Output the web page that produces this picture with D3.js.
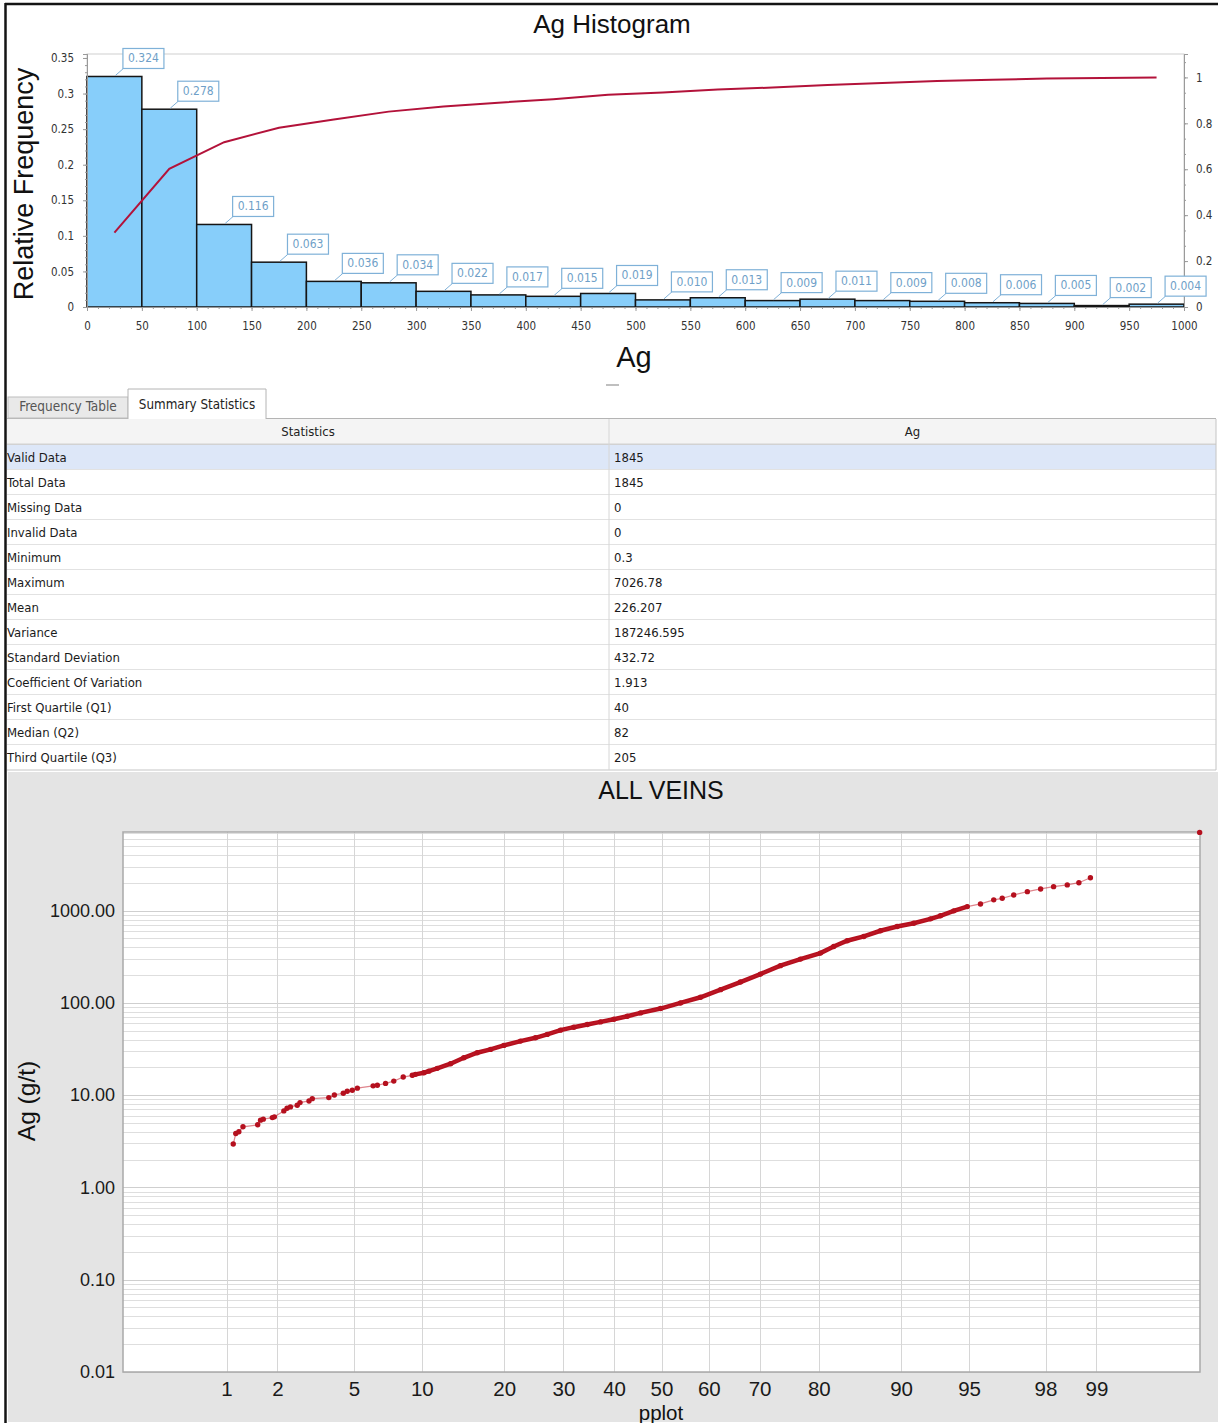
<!DOCTYPE html>
<html>
<head>
<meta charset="utf-8">
<script src="https://cdn.jsdelivr.net/npm/d3@7"></script>
<style>
	body{margin:0;background:#fff;}
	svg{display:block;}
	.haxis text{font-family:"DejaVu Sans Condensed","DejaVu Sans",sans-serif;font-size:11.5px;fill:#333;}
	.haxis path,.haxis line{stroke:#9a9a9a;}
	.paxis text{font-family:"Liberation Sans",Arial,sans-serif;fill:#1a1a1a;}
	.paxis path{display:none;}
</style>
</head>
<body>
<div class="c_chart"></div>
<script>

/*DATA
------------------------------------------------------
------------------------------------------------------
*/

//Histogram : classes de 50 g/t et fréquences relatives
const binStart = [0,50,100,150,200,250,300,350,400,450,500,550,600,650,700,750,800,850,900,950];
const binFreq = [0.324,0.278,0.116,0.063,0.036,0.034,0.022,0.017,0.015,0.019,0.010,0.013,0.009,0.011,0.009,0.008,0.006,0.005,0.002,0.004];
const freqTicks = [0,0.05,0.1,0.15,0.2,0.25,0.3,0.35];
const cumTicks = [0,0.2,0.4,0.6,0.8,1];

//Statistiques
const statNames = ["Valid Data","Total Data","Missing Data","Invalid Data","Minimum","Maximum","Mean","Variance","Standard Deviation","Coefficient Of Variation","First Quartile (Q1)","Median (Q2)","Third Quartile (Q3)"];
const statValues = ["1845","1845","0","0","0.3","7026.78","226.207","187246.595","432.72","1.913","40","82","205"];

//Probability plot (percent cumulé, teneur Ag g/t)
const probTicks = [1,2,5,10,20,30,40,50,60,70,80,90,95,98,99];
const gradeTicks = [0.01,0.1,1,10,100,1000];
const ppPercent = [1.10,1.14,1.19,1.26,1.54,1.60,1.66,1.87,1.92,2.17,2.26,2.36,2.57,2.66,2.97,3.09,
	3.76,4.01,4.44,4.64,4.91,5.19,6.15,6.43,7.00,7.61,8.36,9.13,9.41,10.19,10.67,11.52,
	12.97,14.52,16.21,18.03,19.96,22.54,25.02,27.06,29.46,31.95,34.57,37.22,39.94,42.74,45.54,
	49.8,54.05,58.27,62.40,66.35,70.16,73.76,77.13,80.23,82.15,83.97,86.04,87.92,89.62,91.13,
	92.49,93.21,94.10,94.90,95.60,96.22,96.58,97.02,97.48,97.87,98.20,98.50,98.72,98.91,99.80];
const ppGrade = [2.95,3.84,4.01,4.54,4.77,5.36,5.49,5.71,5.82,6.75,7.21,7.46,7.78,8.30,8.65,9.16,
	9.40,10.05,10.47,11.0,11.3,11.9,12.6,12.8,13.4,14.2,15.7,16.4,16.8,17.5,18.2,19.5,
	21.9,25.4,28.8,31.3,34.6,38.5,41.8,45.5,50.6,54.5,58.3,62.2,66.5,71.6,77.8,
	86.7,99.8,114.9,139,168,205,253,298,346,408,471,524,604,671,729,
	813,877,993,1104,1180,1306,1358,1476,1603,1714,1815,1896,2005,2270,7026.78];


/*SVG
------------------------------------------------------
------------------------------------------------------
*/

let svg = d3.select(".c_chart")
	.append("svg")
	.attr("width",1218)
	.attr("height",1423);

const font = "'Liberation Sans', Arial, sans-serif";
const ui = "'DejaVu Sans Condensed','DejaVu Sans',sans-serif";


/*HISTOGRAM
------------------------------------------------------
------------------------------------------------------
*/

const hist = {left:87, right:1184, top:54, bottom:307};

let xHist = d3.scaleLinear().domain([0,1000]).range([hist.left,hist.right]);
let yHist = d3.scaleLinear().domain([0,0.3556]).range([hist.bottom,hist.top]);
let yCum = d3.scaleLinear().domain([0,1.102]).range([hist.bottom,hist.top]);
const binW = binStart[1]-binStart[0];

//cadre
svg.append("rect")
	.attr("x",hist.left).attr("y",hist.top)
	.attr("width",hist.right-hist.left).attr("height",hist.bottom-hist.top)
	.attr("fill","none").attr("stroke","#cfcfcf");

//barres
svg.selectAll(".bar")
	.data(binStart)
	.enter()
	.append("rect")
	.attr("class","bar")
	.attr("x", d=>xHist(d))
	.attr("y", (d,i)=>yHist(binFreq[i]))
	.attr("width", xHist(binW)-xHist(0))
	.attr("height", (d,i)=>yHist(0)-yHist(binFreq[i]))
	.attr("fill","#87cefa")
	.attr("stroke","#151515")
	.attr("stroke-width",1.5);

//axes
svg.append("g").attr("class","haxis")
	.attr("transform",`translate(${hist.left},0)`)
	.call(d3.axisLeft(yHist).tickValues(d3.range(0,0.351,0.01)).tickSize(2).tickFormat(""));
svg.append("g").attr("class","haxis")
	.attr("transform",`translate(${hist.left},0)`)
	.call(d3.axisLeft(yHist).tickValues(freqTicks).tickSize(4).tickPadding(9).tickFormat(d=>String(+d.toFixed(2))));

svg.append("g").attr("class","haxis")
	.attr("transform",`translate(0,${hist.bottom})`)
	.call(d3.axisBottom(xHist).tickValues(d3.range(0,1001,10)).tickSize(2).tickFormat(""));
svg.append("g").attr("class","haxis")
	.attr("transform",`translate(0,${hist.bottom})`)
	.call(d3.axisBottom(xHist).tickValues(d3.range(0,1001,50)).tickSize(4).tickPadding(11).tickFormat(d=>String(d)));

svg.append("g").attr("class","haxis")
	.attr("transform",`translate(${hist.right},0)`)
	.call(d3.axisRight(yCum).tickValues(d3.range(0,1.1,0.2/3)).tickSize(2).tickFormat(""));
svg.append("g").attr("class","haxis")
	.attr("transform",`translate(${hist.right},0)`)
	.call(d3.axisRight(yCum).tickValues(cumTicks).tickSize(4).tickPadding(8).tickFormat(d=>String(+d.toFixed(1))));

svg.selectAll(".haxis .domain").attr("stroke","#9a9a9a");

//courbe cumulée
const cum = d3.cumsum(binFreq);
svg.append("path")
	.datum(binStart)
	.attr("fill","none")
	.attr("stroke","#b3123a")
	.attr("stroke-width",2)
	.attr("d", d3.line().x(d=>xHist(d+binW/2)).y((d,i)=>yCum(Math.min(cum[i],1))));

//étiquettes
let labels = svg.selectAll(".lbl")
	.data(binStart)
	.enter()
	.append("g")
	.attr("class","lbl");

labels.each(function(d,i){
	let g = d3.select(this);
	let cx = xHist(d+binW/2);
	let top = yHist(binFreq[i]);
	g.append("line")
		.attr("x1",cx+1).attr("y1",top-1)
		.attr("x2",cx+9).attr("y2",top-8)
		.attr("stroke","#7fb1d8").attr("stroke-width",1);
	g.append("rect")
		.attr("x",cx+8.5).attr("y",top-28)
		.attr("width",41).attr("height",20)
		.attr("fill","#fff").attr("stroke","#7fb1d8").attr("stroke-width",1.2);
	g.append("text")
		.attr("x",cx+29).attr("y",top-14)
		.attr("text-anchor","middle")
		.attr("font-family",ui).attr("font-size",12)
		.attr("fill","#6f9fc8")
		.text(binFreq[i].toFixed(3));
});

//titres
svg.append("text")
	.attr("x",612).attr("y",33)
	.attr("text-anchor","middle")
	.attr("font-family",font).attr("font-size",26)
	.attr("fill","#111")
	.text("Ag Histogram");

svg.append("text")
	.attr("transform","translate(33,184) rotate(-90)")
	.attr("text-anchor","middle")
	.attr("font-family",font).attr("font-size",27)
	.attr("fill","#111")
	.text("Relative Frequency");

svg.append("text")
	.attr("x",634).attr("y",367)
	.attr("text-anchor","middle")
	.attr("font-family",font).attr("font-size",29)
	.attr("fill","#111")
	.text("Ag");

svg.append("line")
	.attr("x1",606).attr("x2",619).attr("y1",385).attr("y2",385)
	.attr("stroke","#aaa").attr("stroke-width",1.5);


/*TABLE
------------------------------------------------------
------------------------------------------------------
*/

const tbl = {left:7, mid:609, right:1216, headTop:419, headBottom:444, rowH:25};

//onglets
svg.append("line")
	.attr("x1",tbl.left).attr("x2",tbl.right).attr("y1",418.5).attr("y2",418.5)
	.attr("stroke","#b4b4b4");
svg.append("rect")
	.attr("x",8).attr("y",397).attr("width",120).attr("height",21)
	.attr("fill","#e9e9e9").attr("stroke","#bdbdbd");
svg.append("path")
	.attr("d","M128,419 V389 H266 V419")
	.attr("fill","#fff").attr("stroke","#b4b4b4");
svg.append("text")
	.attr("x",68).attr("y",411).attr("text-anchor","middle")
	.attr("font-family",ui).attr("font-size",13.5).attr("fill","#555")
	.text("Frequency Table");
svg.append("text")
	.attr("x",197).attr("y",409).attr("text-anchor","middle")
	.attr("font-family",ui).attr("font-size",13.3).attr("fill","#222")
	.text("Summary Statistics");

//entête
svg.append("rect")
	.attr("x",tbl.left).attr("y",tbl.headTop)
	.attr("width",tbl.right-tbl.left).attr("height",tbl.headBottom-tbl.headTop)
	.attr("fill","#f4f4f4");
svg.append("line")
	.attr("x1",tbl.left).attr("x2",tbl.right).attr("y1",tbl.headBottom+0.5).attr("y2",tbl.headBottom+0.5)
	.attr("stroke","#d2d2d2").attr("stroke-width",2);
svg.append("text")
	.attr("x",(tbl.left+tbl.mid)/2).attr("y",436).attr("text-anchor","middle")
	.attr("font-family",ui).attr("font-size",13).attr("fill","#222")
	.text("Statistics");
svg.append("text")
	.attr("x",(tbl.mid+tbl.right)/2).attr("y",436).attr("text-anchor","middle")
	.attr("font-family",ui).attr("font-size",13).attr("fill","#222")
	.text("Ag");

//lignes
let rows = svg.selectAll(".row")
	.data(statNames)
	.enter()
	.append("g")
	.attr("class","row")
	.attr("transform",(d,i)=>`translate(0,${tbl.headBottom+1+i*tbl.rowH})`);

rows.append("rect")
	.attr("x",tbl.left).attr("width",tbl.right-tbl.left).attr("height",tbl.rowH)
	.attr("fill",(d,i)=>i===0 ? "#dde7f8" : "#fff");
rows.append("line")
	.attr("x1",tbl.left).attr("x2",tbl.right).attr("y1",tbl.rowH).attr("y2",tbl.rowH)
	.attr("stroke","#e2e2e2").attr("stroke-width",2);
rows.append("text")
	.attr("x",7).attr("y",17)
	.attr("font-family",ui).attr("font-size",13).attr("fill","#1a1a1a")
	.text(d=>d);
rows.append("text")
	.attr("x",tbl.mid+5).attr("y",17)
	.attr("font-family",ui).attr("font-size",13).attr("fill","#1a1a1a")
	.text((d,i)=>statValues[i]);

svg.append("line")
	.attr("x1",tbl.mid).attr("x2",tbl.mid).attr("y1",tbl.headTop).attr("y2",770)
	.attr("stroke","#d6d6d6");
svg.append("line")
	.attr("x1",tbl.right).attr("x2",tbl.right).attr("y1",tbl.headTop).attr("y2",770)
	.attr("stroke","#c4c4c4");


/*PROBABILITY PLOT
------------------------------------------------------
------------------------------------------------------
*/

//quantile de la loi normale (Acklam)
function probit(p){
	const a=[-39.69683028665376,220.9460984245205,-275.9285104469687,138.3577518672690,-30.66479806614716,2.506628277459239];
	const b=[-54.47609879822406,161.5858368580409,-155.6989798598866,66.80131188771972,-13.28068155288572];
	const c=[-0.007784894002430293,-0.3223964580411365,-2.400758277161838,-2.549732539343734,4.374664141464968,2.938163982698783];
	const d=[0.007784695709041462,0.3224671290700398,2.445134137142996,3.754408661907416];
	const pl=0.02425;
	let q,r;
	if(p<pl){
		q=Math.sqrt(-2*Math.log(p));
		return (((((c[0]*q+c[1])*q+c[2])*q+c[3])*q+c[4])*q+c[5])/((((d[0]*q+d[1])*q+d[2])*q+d[3])*q+1);
	}
	if(p>1-pl){
		q=Math.sqrt(-2*Math.log(1-p));
		return -(((((c[0]*q+c[1])*q+c[2])*q+c[3])*q+c[4])*q+c[5])/((((d[0]*q+d[1])*q+d[2])*q+d[3])*q+1);
	}
	q=p-0.5; r=q*q;
	return (((((a[0]*r+a[1])*r+a[2])*r+a[3])*r+a[4])*r+a[5])*q/(((((b[0]*r+b[1])*r+b[2])*r+b[3])*r+b[4])*r+1);
}

const pp = {left:123, right:1200, top:832, bottom:1372};

let xProb = d3.scaleLinear().domain([-2.88,2.88]).range([pp.left,pp.right]);
let yGrade = d3.scaleLog().domain([0.01,7100]).range([pp.bottom,pp.top]);

//fond
svg.append("rect")
	.attr("x",8).attr("y",772).attr("width",1210).attr("height",650)
	.attr("fill","#e4e4e4");
svg.append("rect")
	.attr("x",pp.left).attr("y",pp.top)
	.attr("width",pp.right-pp.left).attr("height",pp.bottom-pp.top)
	.attr("fill","#fff");

//grille horizontale (log)
let minor = [];
gradeTicks.forEach(t=>{
	for(let k=1;k<10;k++){
		if(t*k<=7100) minor.push(t*k);
	}
});
svg.selectAll(".hgrid")
	.data(minor)
	.enter()
	.append("line")
	.attr("x1",pp.left).attr("x2",pp.right)
	.attr("y1",d=>Math.round(yGrade(d))+0.5).attr("y2",d=>Math.round(yGrade(d))+0.5)
	.attr("stroke",(d,i)=>i%9===0 ? "#cfcfcf" : "#dedede");

//grille verticale
svg.selectAll(".vgrid")
	.data(probTicks)
	.enter()
	.append("line")
	.attr("x1",d=>Math.round(xProb(probit(d/100)))+0.5).attr("x2",d=>Math.round(xProb(probit(d/100)))+0.5)
	.attr("y1",pp.top).attr("y2",pp.bottom)
	.attr("stroke","#d6d6d6");

svg.append("rect")
	.attr("x",pp.left).attr("y",pp.top)
	.attr("width",pp.right-pp.left).attr("height",pp.bottom-pp.top)
	.attr("fill","none").attr("stroke","#a9a9a9").attr("stroke-width",1.5);

//axes
svg.append("g").attr("class","paxis")
	.attr("transform",`translate(${pp.left},0)`)
	.call(d3.axisLeft(yGrade).tickValues(gradeTicks).tickSize(0).tickPadding(8).tickFormat(d3.format(".2f")))
	.selectAll("text").attr("font-size",18);

svg.append("g").attr("class","paxis")
	.attr("transform",`translate(0,${pp.bottom})`)
	.call(d3.axisBottom(xProb).tickValues(probTicks.map(p=>probit(p/100))).tickSize(0).tickPadding(9).tickFormat((d,i)=>probTicks[i]))
	.selectAll("text").attr("font-size",20.5);

//points
let ppData = ppPercent.map((p,i)=>({p:p, v:ppGrade[i]}));
let ppLine = d3.line().x(d=>xProb(probit(d.p/100))).y(d=>yGrade(d.v));

//bande dense (nombreux points superposés)
svg.append("path")
	.datum(ppData.filter(d=>d.p>=9 && d.p<=95))
	.attr("fill","none")
	.attr("stroke","#b5101e")
	.attr("stroke-width",4.5)
	.attr("stroke-linecap","round")
	.attr("d", ppLine);

svg.append("path")
	.datum(ppData.filter(d=>d.p<99.5))
	.attr("fill","none")
	.attr("stroke","#c42030")
	.attr("stroke-opacity",0.55)
	.attr("stroke-width",1.2)
	.attr("d", ppLine);

svg.selectAll(".pt")
	.data(ppData)
	.enter()
	.append("circle")
	.attr("class","pt")
	.attr("cx",d=>xProb(probit(d.p/100)))
	.attr("cy",d=>yGrade(d.v))
	.attr("r",2.7)
	.attr("fill","#b5101e");

//titres
svg.append("text")
	.attr("x",661).attr("y",799)
	.attr("text-anchor","middle")
	.attr("font-family",font).attr("font-size",25)
	.attr("fill","#111")
	.text("ALL VEINS");

svg.append("text")
	.attr("x",661).attr("y",1420)
	.attr("text-anchor","middle")
	.attr("font-family",font).attr("font-size",20.5)
	.attr("fill","#111")
	.text("pplot");

svg.append("text")
	.attr("transform","translate(35,1101) rotate(-90)")
	.attr("text-anchor","middle")
	.attr("font-family",font).attr("font-size",24.5)
	.attr("fill","#111")
	.text("Ag (g/t)");


/*CADRE
------------------------------------------------------
------------------------------------------------------
*/
svg.append("line")
	.attr("x1",5).attr("x2",1218).attr("y1",4).attr("y2",4)
	.attr("stroke","#141414").attr("stroke-width",2.5);
svg.append("line")
	.attr("x1",5.5).attr("x2",5.5).attr("y1",3).attr("y2",1423)
	.attr("stroke","#141414").attr("stroke-width",2.5);

</script>
</body>
</html>
